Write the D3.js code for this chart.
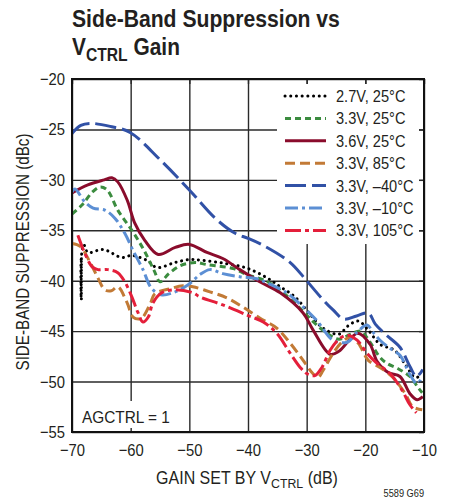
<!DOCTYPE html>
<html>
<head>
<meta charset="utf-8">
<script src="https://cdn.jsdelivr.net/npm/d3@7"></script>
<style>
  body { margin: 0; background: #fff; }
  svg { display: block; }
  text { font-family: "Liberation Sans", Arial, sans-serif; fill: #231f20; }
</style>
</head>
<body>
<svg id="chart" width="453" height="501"></svg>
<script>
// Axis ticks
const gainTicks = [-70, -60, -50, -40, -30, -20, -10];
const sbsTicks = [-55, -50, -45, -40, -35, -30, -25, -20];

// Series labels (legend order)
const seriesLabels = ["2.7V, 25°C", "3.3V, 25°C", "3.6V, 25°C", "3.3V, 85°C", "3.3V, –40°C", "3.3V, –10°C", "3.3V, 105°C"];

// [gain (dB), side-band suppression (dBc)]
const v27t25 = [[-68.4,-41.8],[-68.4,-37.7],[-68.45,-41.7],[-68.4,-37.6],[-68.0,-36.4],[-67.3,-37.2],[-64.7,-36.9],
  [-61.5,-37.7],[-59.8,-37.5],[-57.2,-38.0],[-55.5,-38.7],[-52.5,-38.2],[-50,-37.9],[-48.2,-37.95],[-44.3,-38.25],
  [-40.2,-38.75],[-36.8,-39.7],[-34.5,-40.6],[-32,-41.6],[-29.6,-43.2],[-27.2,-44.7],[-24.5,-45.3],[-23,-44.5],
  [-21.2,-44.0],[-19.5,-44.9],[-17.5,-46.3],[-15,-46.9],[-13.2,-48.3],[-11.5,-49.6],[-10.3,-49.3]];

const v33t25 = [[-70,-33.4],[-68.3,-32.5],[-66.5,-31.2],[-65.2,-30.7],[-64,-31.0],[-62.2,-33.0],[-59.8,-35.0],
  [-57.8,-36.9],[-56.0,-39.0],[-55.0,-40.1],[-53.5,-39.3],[-51.5,-38.5],[-49,-38.2],[-47,-38.4],[-42.5,-38.8],
  [-40.2,-39.4],[-37,-40.0],[-34,-41.2],[-31,-42.8],[-29,-44.0],[-27,-45.0],[-24.5,-45.8],[-22.5,-45.3],
  [-20.8,-45.0],[-19.3,-46.0],[-17.5,-47.6],[-16.3,-48.2],[-14.5,-48.7],[-12.4,-49.5],[-11,-50.6],[-10.3,-51.1]];

const v36t25 = [[-70,-31.3],[-67.3,-30.5],[-64.5,-30.0],[-63.2,-29.8],[-62.2,-30.2],[-60.6,-32.0],[-59.3,-34.3],
  [-57.6,-36.0],[-55.3,-37.4],[-52.4,-36.7],[-50,-36.4],[-47,-37.2],[-44.3,-37.8],[-41.4,-38.9],[-38,-40.1],
  [-34.5,-41.2],[-30.6,-43.2],[-28.9,-44.9],[-26,-47.3],[-24.5,-47.0],[-21.3,-45.2],[-19.2,-46.3],[-18.0,-48.0],
  [-16.1,-49.1],[-14.1,-49.5],[-12.4,-51.2],[-11.2,-51.8],[-10.2,-51.5]];

const v33t85 = [[-70,-36.3],[-68.6,-36.6],[-66.9,-38.2],[-65.6,-39.7],[-64.4,-40.9],[-63.3,-41.0],[-62.2,-40.6],
  [-60.6,-42.2],[-59.6,-43.6],[-58.5,-43.8],[-57.9,-43.6],[-56.6,-42.2],[-55.9,-41.3],[-53.3,-40.8],[-51.1,-40.5],
  [-49.4,-40.6],[-46.5,-41.1],[-43.6,-41.7],[-40.9,-42.6],[-38,-43.7],[-35.1,-44.7],[-32.8,-46.2],[-30.6,-47.9],
  [-29.1,-49.1],[-28.1,-49.6],[-27.2,-48.9],[-25.5,-47.2],[-24,-46.1],[-22.6,-45.6],[-21.2,-46.2],[-19.5,-47.9],
  [-17.5,-48.6],[-15.3,-49.6],[-13.2,-51.2],[-11.9,-52.5],[-10.3,-52.8]];

const v33tm40 = [[-70,-25.4],[-68.5,-24.6],[-66.9,-24.4],[-63.5,-24.7],[-60.1,-25.3],[-55,-28.0],[-50,-31.0],
  [-45.6,-33.8],[-42.2,-35.3],[-40,-35.8],[-37.4,-36.5],[-32.8,-38.2],[-30.3,-39.8],[-27.5,-41.7],[-25.5,-42.9],
  [-23.7,-43.8],[-21.5,-43.5],[-19.5,-43.2],[-18.3,-44.3],[-16.6,-45.3],[-14.1,-46.6],[-12.4,-48.5],[-11.3,-49.5],
  [-10.2,-48.8]];

const v33tm10 = [[-70,-31.2],[-69.5,-30.9],[-67.8,-32.2],[-66.4,-32.8],[-64.4,-33.0],[-62.7,-33.8],[-61,-35.3],
  [-59.6,-37.0],[-57.9,-38.9],[-56.5,-40.7],[-54.8,-41.4],[-52.4,-41.1],[-50.2,-40.4],[-48.2,-39.4],[-46.5,-38.9],
  [-44.3,-39.3],[-41.4,-39.6],[-38.5,-39.8],[-36.8,-40.2],[-33.4,-41.2],[-30.6,-42.6],[-28.2,-44.0],[-25.5,-45.9],
  [-23.1,-46.1],[-21.4,-45.1],[-19.7,-44.4],[-18.7,-45.1],[-17.5,-45.9],[-15.8,-46.7],[-14.1,-47.4],[-12.4,-49.3],
  [-11.2,-50.2],[-10.2,-49.5]];

const v33t105 = [[-69,-35.5],[-67.8,-37.3],[-66.6,-38.6],[-65.6,-38.9],[-63.9,-38.9],[-62.2,-39.2],[-61,-40.1],
  [-59.8,-41.6],[-58.8,-43.1],[-57.9,-44.1],[-57,-43.6],[-56.2,-42.2],[-54.7,-41.2],[-52.4,-40.9],[-49.4,-41.2],
  [-48.2,-41.6],[-44.3,-42.4],[-40.2,-43.4],[-37.4,-44.1],[-35.1,-45.2],[-32.8,-47.2],[-31.1,-48.6],[-30,-49.2],
  [-28.6,-49.4],[-27.4,-48.6],[-26,-46.9],[-24.3,-45.7],[-23,-45.4],[-21.4,-45.9],[-19.7,-47.2],[-18,-48.2],
  [-15.8,-49.2],[-13.8,-50.8],[-12.4,-52.3],[-11.3,-53.1]];

const seriesData = [v27t25, v33t25, v36t25, v33t85, v33tm40, v33tm10, v33t105];
const seriesColors = ["#000000", "#3b8c3f", "#8a0c2c", "#c27a36", "#3151a6", "#5c8fd4", "#e41f3a"];
const seriesDash = ["0.1 5.6", "6 4", null, "10 5", "21 6", "13 4 3 4", "16 4 4 4"];

const svg = d3.select("#chart");
const x = d3.scaleLinear().domain([-70, -10]).range([72, 424]);
const y = d3.scaleLinear().domain([-55, -20]).range([432, 79]);
const plotL = x.range()[0], plotR = x.range()[1], plotT = y.range()[1], plotB = y.range()[0];

// Condense text horizontally about its anchor point (narrow typeface look)
function condense(sel, k) {
  sel.each(function () {
    const t = d3.select(this);
    const bb = this.getBBox();
    const a = t.attr("text-anchor") || getComputedStyle(this).textAnchor;
    const p = a === "middle" ? bb.x + bb.width / 2 : a === "end" ? bb.x + bb.width : bb.x;
    t.attr("transform", `translate(${p},0) scale(${k},1) translate(${-p},0)`);
  });
}
function fitWidth(sel, w) { condense(sel, w / sel.node().getBBox().width); }

// Title
const t1 = svg.append("text").attr("x", 72).attr("y", 27)
  .style("font-weight", "bold").style("font-size", "24px").text("Side-Band Suppression vs");
fitWidth(t1, 268);
const t2 = svg.append("text").attr("x", 72).attr("y", 55)
  .style("font-weight", "bold").style("font-size", "24px");
t2.append("tspan").text("V");
t2.append("tspan").attr("dy", 6).style("font-size", "18px").text("CTRL");
t2.append("tspan").attr("dy", -6).text(" Gain");
fitWidth(t2, 108);

// Grid
const grid = svg.append("g");
grid.append("g").attr("transform", `translate(0,${plotB})`)
  .call(d3.axisBottom(x).tickValues(gainTicks).tickSize(-(plotB - plotT)).tickFormat(""))
  .call(g => g.select(".domain").remove())
  .call(g => g.selectAll("line").attr("stroke", "#2a2a2a").attr("stroke-width", 1.4));
grid.append("g").attr("transform", `translate(${plotL},0)`)
  .call(d3.axisLeft(y).tickValues(sbsTicks).tickSize(-(plotR - plotL)).tickFormat(""))
  .call(g => g.select(".domain").remove())
  .call(g => g.selectAll("line").attr("stroke", "#2a2a2a").attr("stroke-width", 1.4));

// Curves
svg.append("clipPath").attr("id", "plotClip").append("rect")
  .attr("x", plotL).attr("y", plotT).attr("width", plotR - plotL).attr("height", plotB - plotT);
const line = d3.line().x(d => x(d[0])).y(d => y(d[1])).curve(d3.curveCatmullRom.alpha(0.5));
const curves = svg.append("g").attr("clip-path", "url(#plotClip)");
seriesData.forEach((data, i) => {
  curves.append("path").datum(data).attr("d", line)
    .attr("fill", "none").attr("stroke", seriesColors[i]).attr("stroke-width", 3)
    .attr("stroke-dasharray", seriesDash[i]).attr("stroke-linecap", i === 0 ? "round" : "butt")
    .attr("stroke-linejoin", "round");
});

// Legend
const legend = svg.append("g");
legend.append("rect").attr("x", 277).attr("y", 84).attr("width", 142).attr("height", 160).attr("fill", "#fff");
seriesLabels.forEach((label, i) => {
  const cy = 96 + i * 22.4;
  legend.append("line").attr("x1", 285).attr("x2", 326).attr("y1", cy).attr("y2", cy)
    .attr("stroke", seriesColors[i]).attr("stroke-width", 3)
    .attr("stroke-dasharray", seriesDash[i]).attr("stroke-linecap", i === 0 ? "round" : "butt");
  legend.append("text").attr("class", "legend-label").attr("x", 336).attr("y", cy + 6)
    .style("font-size", "17px").text(label);
});
condense(legend.selectAll(".legend-label"), 0.86);

// AGCTRL note
svg.append("rect").attr("x", 78).attr("y", 401).attr("width", 98).attr("height", 27).attr("fill", "#fff");
const note = svg.append("text").attr("x", 82).attr("y", 423).style("font-size", "17px").text("AGCTRL = 1");
fitWidth(note, 88);

// Short inward ticks along the top and right edges
svg.append("g").attr("transform", `translate(${plotR},0)`)
  .call(d3.axisLeft(y).tickValues(sbsTicks).tickSize(5).tickFormat(""))
  .call(g => g.select(".domain").remove())
  .call(g => g.selectAll("line").attr("stroke", "#2a2a2a").attr("stroke-width", 1.4));
svg.append("g").attr("transform", `translate(0,${plotT})`)
  .call(d3.axisBottom(x).tickValues(gainTicks).tickSize(5).tickFormat(""))
  .call(g => g.select(".domain").remove())
  .call(g => g.selectAll("line").attr("stroke", "#2a2a2a").attr("stroke-width", 1.4));

// Frame
svg.append("rect").attr("x", plotL).attr("y", plotT).attr("width", plotR - plotL).attr("height", plotB - plotT)
  .attr("fill", "none").attr("stroke", "#111").attr("stroke-width", 2);

// Tick labels
const fmt = d => (d < 0 ? "\u2212" : "") + Math.abs(d);
const yAxisG = svg.append("g").attr("transform", `translate(${plotL},0)`)
  .call(d3.axisLeft(y).tickValues(sbsTicks).tickSize(0).tickPadding(7).tickFormat(fmt))
  .call(g => g.select(".domain").remove())
  .call(g => g.selectAll("text").style("font-size", "17px").attr("fill", "#231f20")
    .style("font-family", "'Liberation Sans',Arial,sans-serif"));
condense(yAxisG.selectAll("text"), 0.87);
const xAxisG = svg.append("g").attr("transform", `translate(0,${plotB})`)
  .call(d3.axisBottom(x).tickValues(gainTicks).tickSize(0).tickPadding(12).tickFormat(fmt))
  .call(g => g.select(".domain").remove())
  .call(g => g.selectAll("text").style("font-size", "17px").attr("fill", "#231f20")
    .style("font-family", "'Liberation Sans',Arial,sans-serif"));
condense(xAxisG.selectAll("text"), 0.87);

// Axis titles
const xt = svg.append("text").attr("x", (plotL + plotR) / 2 - 1).attr("y", 484)
  .attr("text-anchor", "middle").style("font-size", "17.5px");
xt.append("tspan").text("GAIN SET BY V");
xt.append("tspan").attr("dy", 4).style("font-size", "13.5px").text("CTRL");
xt.append("tspan").attr("dy", -4).text(" (dB)");
fitWidth(xt, 182);

const yt = svg.append("g").attr("transform", "translate(29,252) rotate(-90)")
  .append("text").attr("x", 0).attr("y", 0).attr("text-anchor", "middle")
  .style("font-size", "17.5px").text("SIDE-BAND SUPPRESSION (dBc)");
fitWidth(yt, 237);

const code = svg.append("text").attr("x", 424).attr("y", 497).attr("text-anchor", "end")
  .style("font-size", "10px").text("5589 G69");
fitWidth(code, 41);
</script>
</body>
</html>
